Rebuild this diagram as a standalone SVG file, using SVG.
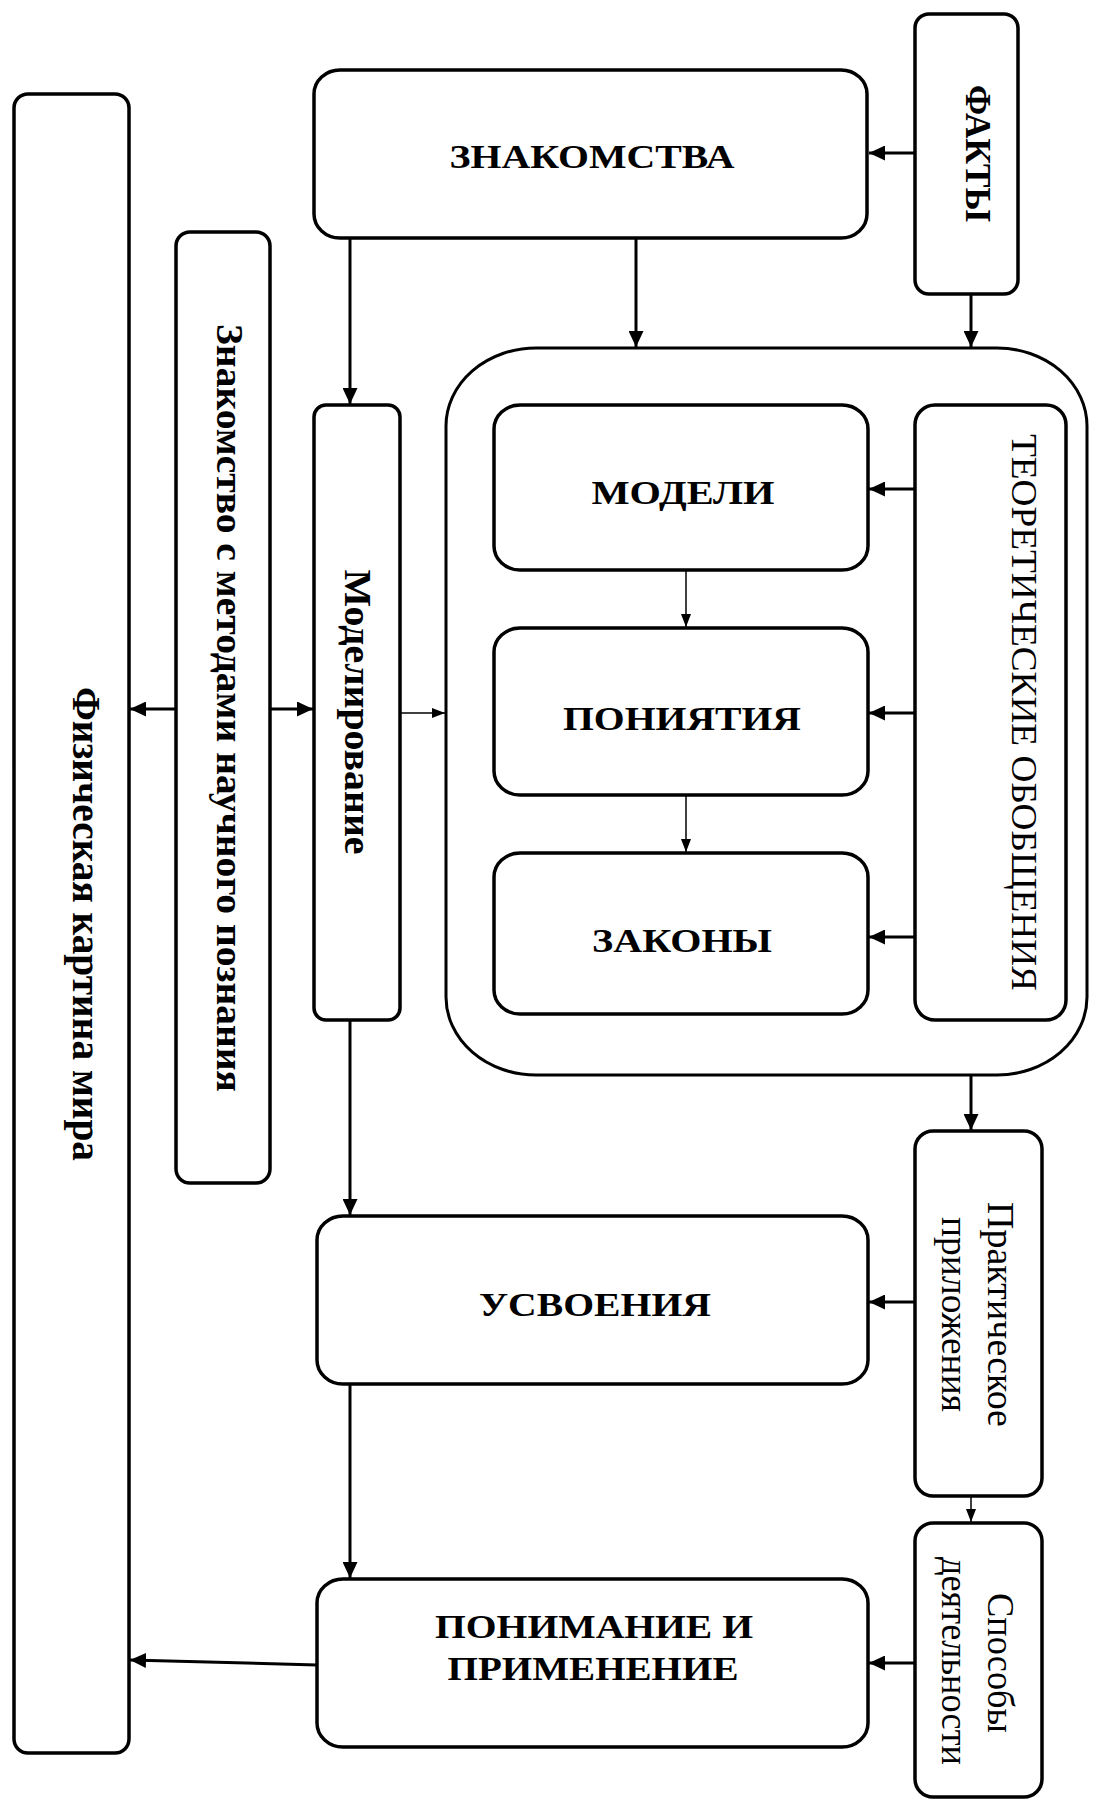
<svg xmlns="http://www.w3.org/2000/svg" width="1093" height="1802" viewBox="0 0 1093 1802">
  <style>
    .box { fill: #ffffff; stroke: #000000; stroke-width: 3.5; }
    .cont { fill: #ffffff; stroke: #000000; stroke-width: 3; }
    .t { font-family: "Liberation Serif", "Times New Roman", serif; fill: #000000; text-anchor: middle; }
    .b { font-weight: bold; }
    .thick { fill: none; stroke: #000000; stroke-width: 3; marker-end: url(#ah); }
    .thin { fill: none; stroke: #000000; stroke-width: 1.5; marker-end: url(#ahs); }
  </style>
  <defs>
    <marker id="ah" markerUnits="userSpaceOnUse" markerWidth="17" markerHeight="15" refX="16" refY="7.5" orient="auto">
      <path d="M0,0 L16,7.5 L0,15 z" fill="#000000"/>
    </marker>
    <marker id="ahs" markerUnits="userSpaceOnUse" markerWidth="14" markerHeight="10" refX="13" refY="5" orient="auto">
      <path d="M0,0 L13,5 L0,10 z" fill="#000000"/>
    </marker>
  </defs>
  <rect x="0" y="0" width="1093" height="1802" fill="#ffffff"/>

  <g id="fiz">
    <rect class="box" x="14" y="94" width="115" height="1659" rx="14" ry="14"/>
    <text class="t b" font-size="39" transform="translate(73,924) rotate(90)" textLength="474" lengthAdjust="spacingAndGlyphs">Физическая картина мира</text>
  </g>
  <g id="metody">
    <rect class="box" x="176" y="232" width="94" height="951" rx="14" ry="14"/>
    <text class="t b" font-size="38" transform="translate(217,708) rotate(90)" textLength="768" lengthAdjust="spacingAndGlyphs">Знакомство с методами научного познания</text>
  </g>
  <g id="znakomstva">
    <rect class="box" x="314" y="70" width="553" height="168" rx="26" ry="24"/>
    <text class="t b" font-size="33" x="592" y="168" textLength="285" lengthAdjust="spacingAndGlyphs">ЗНАКОМСТВА</text>
  </g>
  <g id="fakty">
    <rect class="box" x="915" y="14" width="103" height="280" rx="14" ry="14"/>
    <text class="t b" font-size="36" transform="translate(966,153.5) rotate(90)" textLength="137" lengthAdjust="spacingAndGlyphs">ФАКТЫ</text>
  </g>
  <g id="modelirovanie">
    <rect class="box" x="314" y="405" width="86" height="615" rx="12" ry="12"/>
    <text class="t b" font-size="37" transform="translate(345,712) rotate(90)" textLength="285" lengthAdjust="spacingAndGlyphs">Моделирование</text>
  </g>
  <g id="container">
    <rect class="cont" x="446" y="348" width="641" height="727" rx="90" ry="78"/>
  </g>
  <g id="modeli">
    <rect class="box" x="494" y="405" width="374" height="165" rx="26" ry="24"/>
    <text class="t b" font-size="33" x="683" y="504" textLength="183" lengthAdjust="spacingAndGlyphs">МОДЕЛИ</text>
  </g>
  <g id="ponyatiya">
    <rect class="box" x="494" y="628" width="374" height="167" rx="26" ry="24"/>
    <text class="t b" font-size="33" x="682" y="730" textLength="238" lengthAdjust="spacingAndGlyphs">ПОНИЯТИЯ</text>
  </g>
  <g id="zakony">
    <rect class="box" x="494" y="853" width="374" height="161" rx="26" ry="24"/>
    <text class="t b" font-size="33" x="682" y="952" textLength="180" lengthAdjust="spacingAndGlyphs">ЗАКОНЫ</text>
  </g>
  <g id="teor">
    <rect class="box" x="915" y="405" width="151" height="615" rx="20" ry="20"/>
    <text class="t" font-size="35" transform="translate(1012,712.5) rotate(90)" textLength="557" lengthAdjust="spacingAndGlyphs">ТЕОРЕТИЧЕСКИЕ ОБОБЩЕНИЯ</text>
  </g>
  <g id="praktich">
    <rect class="box" x="915" y="1131" width="127" height="365" rx="18" ry="18"/>
    <text class="t" font-size="37" transform="translate(988,1314.5) rotate(90)" textLength="225" lengthAdjust="spacingAndGlyphs">Практическое</text>
    <text class="t" font-size="37" transform="translate(942,1314.5) rotate(90)" textLength="195" lengthAdjust="spacingAndGlyphs">приложения</text>
  </g>
  <g id="sposoby">
    <rect class="box" x="915" y="1523" width="127" height="274" rx="18" ry="18"/>
    <text class="t" font-size="37" transform="translate(988,1663) rotate(90)" textLength="140" lengthAdjust="spacingAndGlyphs">Способы</text>
    <text class="t" font-size="37" transform="translate(942,1661) rotate(90)" textLength="208" lengthAdjust="spacingAndGlyphs">деятельности</text>
  </g>
  <g id="usvoeniya">
    <rect class="box" x="317" y="1216" width="551" height="168" rx="26" ry="24"/>
    <text class="t b" font-size="33" x="595" y="1316" textLength="232" lengthAdjust="spacingAndGlyphs">УСВОЕНИЯ</text>
  </g>
  <g id="ponimanie">
    <rect class="box" x="317" y="1579" width="551" height="168" rx="26" ry="24"/>
    <text class="t b" font-size="33" x="594" y="1638" textLength="318" lengthAdjust="spacingAndGlyphs">ПОНИМАНИЕ И</text>
    <text class="t b" font-size="33" x="593" y="1680" textLength="291" lengthAdjust="spacingAndGlyphs">ПРИМЕНЕНИЕ</text>
  </g>

  <g id="connectors">
    <path class="thick" d="M915,153 H869"/>
    <path class="thick" d="M971,294 V347"/>
    <path class="thick" d="M636,238 V347"/>
    <path class="thick" d="M350,238 V404"/>
    <path class="thick" d="M915,489 H869"/>
    <path class="thick" d="M915,713 H869"/>
    <path class="thick" d="M915,937 H869"/>
    <path class="thin" d="M686,570 V627"/>
    <path class="thin" d="M686,795 V852"/>
    <path class="thin" d="M400,713 H445"/>
    <path class="thick" d="M270,709 H313"/>
    <path class="thick" d="M176,709 H130"/>
    <path class="thick" d="M350,1020 V1215"/>
    <path class="thick" d="M971,1075 V1130"/>
    <path class="thick" d="M915,1302 H869"/>
    <path class="thin" d="M971,1496 V1522"/>
    <path class="thick" d="M350,1384 V1578"/>
    <path class="thick" d="M915,1663 H869"/>
    <path class="thick" d="M317,1665 L130,1660"/>
  </g>
</svg>
